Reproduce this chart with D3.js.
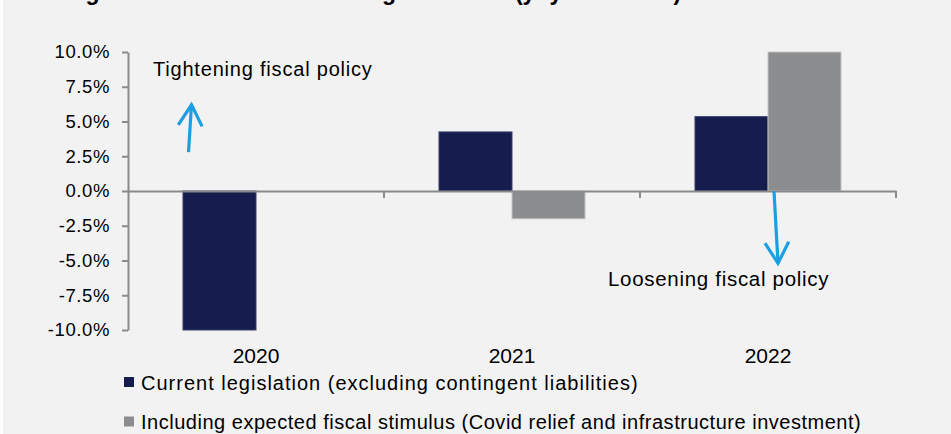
<!DOCTYPE html>
<html>
<head>
<meta charset="utf-8">
<script src="https://cdn.jsdelivr.net/npm/d3@7.9.0/dist/d3.min.js"></script>
<style>
  html, body { margin: 0; padding: 0; background: #fff; }
  svg { display: block; font-family: "Liberation Sans", Arial, sans-serif; }
</style>
</head>
<body>
<svg id="chart" width="951" height="434"></svg>
<script>
// chart data
const years = ['2020', '2021', '2022'];
const seriesNames = [
  'Current legislation (excluding contingent liabilities)',
  'Including expected fiscal stimulus (Covid relief and infrastructure investment)'
];
const currentLegislation = [-10.0, 4.25, 5.35];
const withStimulus = [null, -2.0, 10.0];
const yTicks = [-10, -7.5, -5, -2.5, 0, 2.5, 5, 7.5, 10];
const colors = ['#151d4f', '#8c8d8f'];

const title = 'Change in federal structural budget balance (yoy % of GDP)';

const width = 951, height = 434;
const margin = { top: 52, right: 55, bottom: 104, left: 128 };

const svg = d3.select('#chart');

// background (thin white strip on the left edge)
svg.append('rect').attr('width', width).attr('height', height).attr('fill', '#fff');
svg.append('rect').attr('x', 3).attr('width', width - 3).attr('height', height).attr('fill', '#f2f2f2');

// title, mostly cut off at the top like in the source
svg.append('text')
  .attr('x', 28).attr('y', 0)
  .attr('font-size', 23).attr('font-weight', 'bold')
  .attr('fill', '#000')
  .text(title);

const x0 = d3.scaleBand()
  .domain(years)
  .range([margin.left, width - margin.right])
  .paddingInner(0).paddingOuter(0);

const x1 = d3.scaleBand()
  .domain([0, 1])
  .range([0, x0.bandwidth()])
  .paddingInner(0).paddingOuter(0.753);

const y = d3.scaleLinear()
  .domain([-10, 10])
  .range([height - margin.bottom, margin.top]);

// bars
const rows = years.map((yr, i) => ({ year: yr, values: [currentLegislation[i], withStimulus[i]] }));

const groups = svg.append('g')
  .selectAll('g')
  .data(rows)
  .enter()
  .append('g')
  .attr('transform', d => `translate(${x0(d.year)},0)`);

groups.selectAll('rect')
  .data(d => d.values.map((v, k) => ({ v, k })).filter(e => e.v !== null))
  .enter()
  .append('rect')
  .attr('x', d => x1(d.k))
  .attr('width', x1.bandwidth())
  .attr('y', d => y(Math.max(0, d.v)))
  .attr('height', d => Math.abs(y(d.v) - y(0)))
  .attr('fill', d => colors[d.k])
  .attr('stroke', d => d.k === 0 ? '#3a4170' : '#c4c4c4')
  .attr('stroke-width', 1);

// y axis
const yAxis = svg.append('g')
  .attr('transform', `translate(${margin.left},0)`)
  .call(d3.axisLeft(y).tickValues(yTicks).tickSize(6).tickSizeOuter(0)
    .tickFormat(d => d.toFixed(1) + '%'));
yAxis.select('.domain').attr('stroke', '#8a8a8a').attr('stroke-width', 2);
yAxis.selectAll('.tick line').attr('stroke', '#8a8a8a').attr('stroke-width', 2);
yAxis.selectAll('.tick text')
  .attr('x', -18)
  .attr('font-size', 18.5)
  .attr('letter-spacing', 0.6)
  .attr('fill', '#000')
  .attr('font-family', '"Liberation Sans", Arial, sans-serif');

// x axis at zero
const xAxis = svg.append('g')
  .attr('transform', `translate(0,${y(0)})`)
  .call(d3.axisBottom(x0).tickSize(0).tickSizeOuter(0).tickFormat(''));
xAxis.select('.domain').attr('stroke', '#8a8a8a').attr('stroke-width', 2);

// category separators
svg.append('g')
  .selectAll('line')
  .data(years)
  .enter()
  .append('line')
  .attr('x1', d => x0(d) + x0.bandwidth())
  .attr('x2', d => x0(d) + x0.bandwidth())
  .attr('y1', y(0))
  .attr('y2', y(0) + 7)
  .attr('stroke', '#8a8a8a')
  .attr('stroke-width', 2);

// category labels below the plot
svg.append('g')
  .selectAll('text')
  .data(years)
  .enter()
  .append('text')
  .attr('x', d => x0(d) + x0.bandwidth() / 2)
  .attr('y', 363)
  .attr('text-anchor', 'middle')
  .attr('font-size', 21)
  .attr('fill', '#000')
  .text(d => d);

// legend
const legendSpacing = [1.0, 0.52];
const legend = svg.append('g')
  .selectAll('g')
  .data(seriesNames)
  .enter()
  .append('g')
  .attr('transform', (d, i) => `translate(124,${377 + i * 39.5})`);
legend.append('rect')
  .attr('width', 10).attr('height', 10)
  .attr('fill', (d, i) => colors[i]);
legend.append('text')
  .attr('x', 17).attr('y', 12.5)
  .attr('font-size', 20)
  .attr('letter-spacing', (d, i) => legendSpacing[i])
  .attr('fill', '#000')
  .text(d => d);

// annotations
const arrowColor = '#1a9fe2';
const mid = x0.bandwidth() / 2;
const arrows = [
  { from: [x0('2020') + 60.5, y(2.8)], to: [x0('2020') + 63.5, y(6.2)] },
  { from: [x0('2022') + mid + 6, y(0)], to: [x0('2022') + mid + 10, y(-5.2)] }
];
arrows.forEach(a => {
  const [fx, fy] = a.from, [tx, ty] = a.to;
  const ang = Math.atan2(ty - fy, tx - fx);
  const len = 24, spread = 0.52;
  svg.append('line')
    .attr('x1', fx).attr('y1', fy).attr('x2', tx).attr('y2', ty)
    .attr('stroke', arrowColor).attr('stroke-width', 3.2);
  svg.append('path')
    .attr('d', d3.line()([
      [tx - len * Math.cos(ang - spread), ty - len * Math.sin(ang - spread)],
      [tx, ty],
      [tx - len * Math.cos(ang + spread), ty - len * Math.sin(ang + spread)]
    ]))
    .attr('fill', 'none')
    .attr('stroke', arrowColor).attr('stroke-width', 3.2)
    .attr('stroke-linejoin', 'miter');
});

svg.append('text')
  .attr('x', 153).attr('y', 76)
  .attr('font-size', 20).attr('letter-spacing', 0.8)
  .attr('fill', '#000')
  .text('Tightening fiscal policy');

svg.append('text')
  .attr('x', 608).attr('y', 286)
  .attr('font-size', 20.5).attr('letter-spacing', 0.7)
  .attr('fill', '#000')
  .text('Loosening fiscal policy');
</script>
</body>
</html>
